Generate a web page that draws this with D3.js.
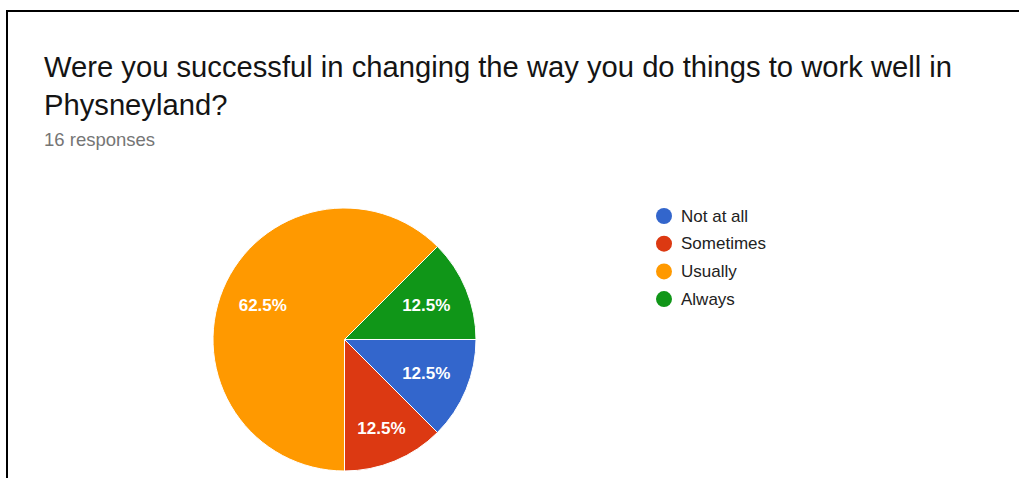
<!DOCTYPE html>
<html>
<head>
<meta charset="utf-8">
<script src="https://cdn.jsdelivr.net/npm/d3@7"></script>
<style>
  html, body { margin: 0; padding: 0; background: #fff; }
  svg { display: block; font-family: "Liberation Sans", Arial, sans-serif; }
</style>
</head>
<body>
<svg id="chart" width="1019" height="478"></svg>
<script>
// Survey answers, in drawing order (clockwise from 3 o'clock)
const categories = ["Not at all", "Sometimes", "Usually", "Always"];
const responses = [2, 2, 10, 2];
const sliceColors = ["#3366cc", "#dc3912", "#ff9900", "#109618"];
const titleLines = [
  "Were you successful in changing the way you do things to work well in",
  "Physneyland?"
];
const subtitle = "16 responses";

const svg = d3.select("#chart");
const W = 1019, H = 478;

// card frame (top and left edges)
svg.append("path")
  .attr("d", `M7,${H} L7,11 L${W},11`)
  .attr("fill", "none")
  .attr("stroke", "#000")
  .attr("stroke-width", 2);

// title
const title = svg.append("text")
  .attr("x", 44)
  .attr("y", 77)
  .attr("font-size", 29.2)
  .attr("fill", "#141414");
title.selectAll("tspan")
  .data(titleLines)
  .join("tspan")
  .attr("x", 44)
  .attr("dy", (d, i) => i === 0 ? 0 : 38)
  .text(d => d);

svg.append("text")
  .attr("x", 44)
  .attr("y", 146)
  .attr("font-size", 18.5)
  .attr("fill", "#757575")
  .text(subtitle);

// pie
const cx = 344.5, cy = 339.5, R = 131.5;
const total = d3.sum(responses);
const color = d3.scaleOrdinal().domain(categories).range(sliceColors);

const pie = d3.pie()
  .value(d => d.value)
  .sort(null)
  .startAngle(Math.PI / 2)
  .endAngle(Math.PI / 2 + 2 * Math.PI);

const arcs = pie(categories.map((c, i) => ({ cat: c, value: responses[i] })));
const arc = d3.arc().innerRadius(0).outerRadius(R);

const g = svg.append("g").attr("transform", `translate(${cx},${cy})`);

g.selectAll("path.slice")
  .data(arcs)
  .join("path")
  .attr("class", "slice")
  .attr("d", arc)
  .attr("fill", d => color(d.data.cat))
  .attr("stroke", "#fff")
  .attr("stroke-width", 1);

// percentage labels: the text box is pushed outward along the slice's
// mid-angle until its outer corner reaches a fixed radius
const fmt = d => (d.data.value / total * 100).toFixed(1) + "%";
const cornerR = 0.86 * R;
const labels = g.selectAll("text.pct")
  .data(arcs)
  .join("text")
  .attr("class", "pct")
  .attr("font-size", 17)
  .attr("font-weight", "bold")
  .attr("fill", "#fff")
  .attr("text-anchor", "middle")
  .attr("dominant-baseline", "central")
  .text(fmt);

labels.each(function (d) {
  const w = this.getComputedTextLength();
  const h = 12;
  const a = (d.startAngle + d.endAngle) / 2;
  const ux = Math.sin(a), uy = -Math.cos(a);
  const ox = Math.sign(ux) * w / 2, oy = Math.sign(uy) * h / 2;
  const uo = ux * ox + uy * oy;
  const dist = -uo + Math.sqrt(uo * uo - (ox * ox + oy * oy) + cornerR * cornerR);
  d3.select(this).attr("x", dist * ux).attr("y", dist * uy);
});

// legend
const legend = svg.append("g").attr("transform", "translate(664,216)");
const item = legend.selectAll("g")
  .data(categories)
  .join("g")
  .attr("transform", (d, i) => `translate(0,${i * 27.7})`);
item.append("circle")
  .attr("r", 8)
  .attr("fill", d => color(d));
item.append("text")
  .attr("x", 17)
  .attr("dominant-baseline", "central")
  .attr("font-size", 17)
  .attr("fill", "#222")
  .text(d => d);
</script>
</body>
</html>
